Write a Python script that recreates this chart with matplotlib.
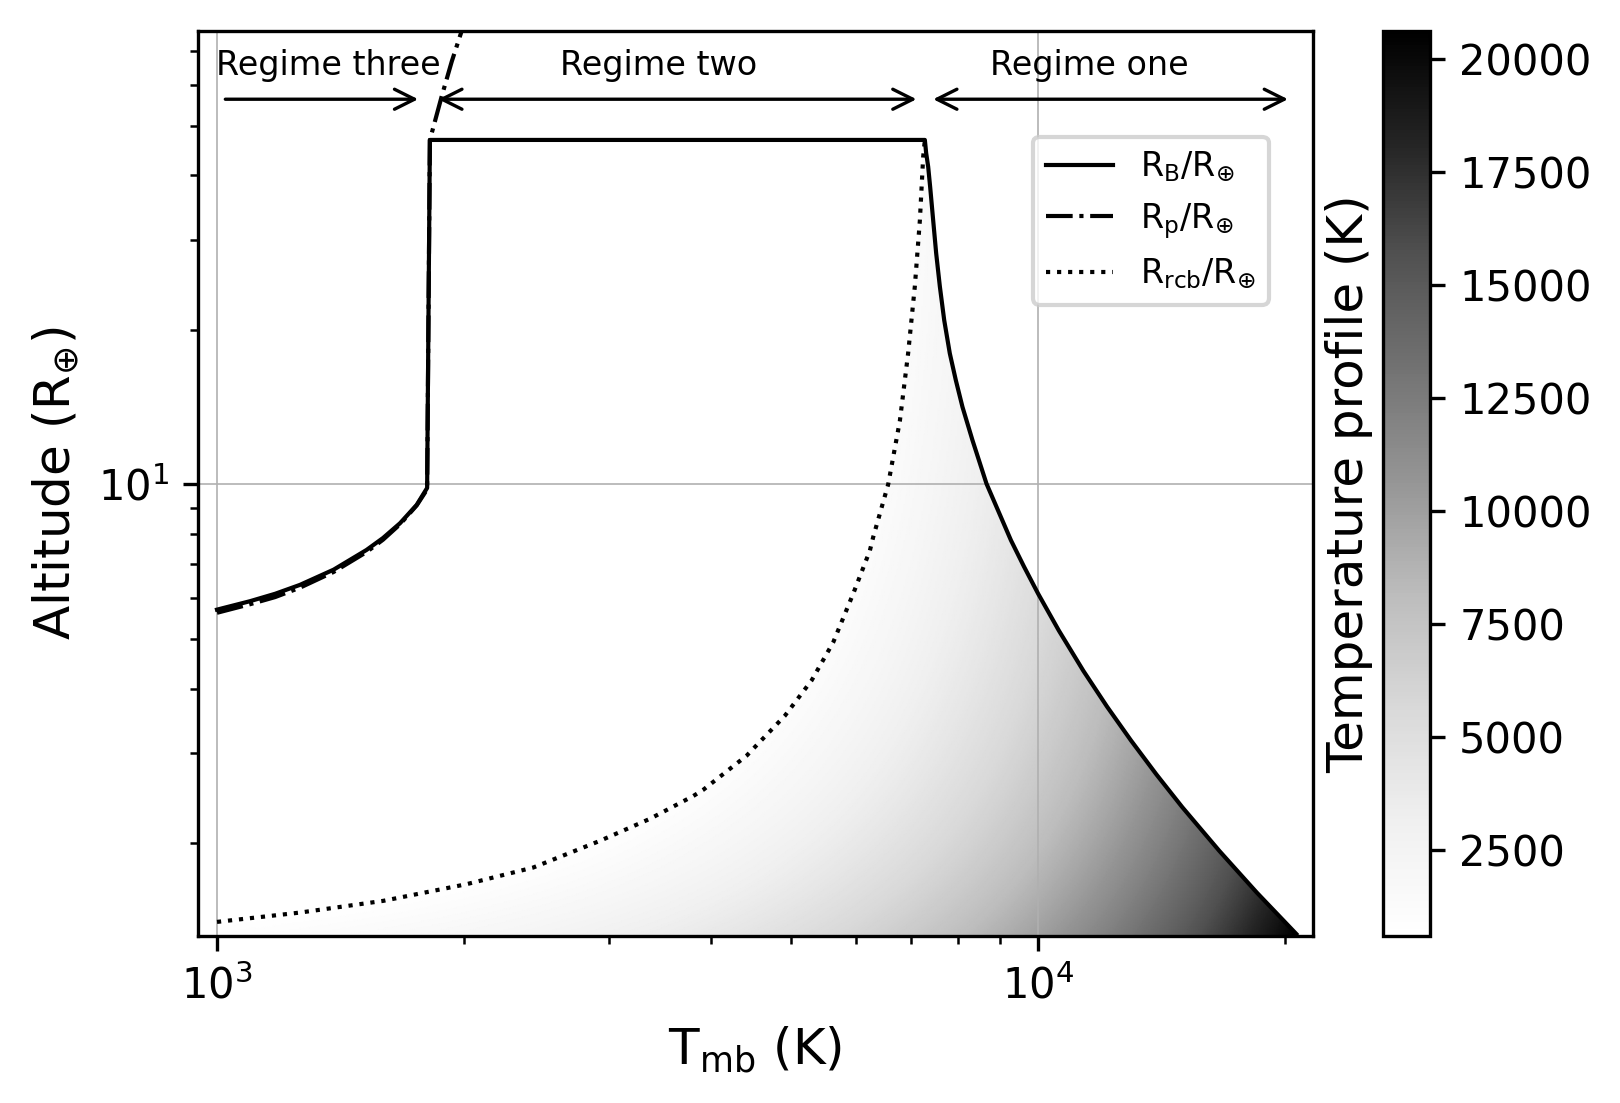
import numpy as np
import matplotlib.pyplot as plt
from matplotlib.patches import Polygon

# Bondi radius R_B (solid)
t_b = [1000, 1097, 1177, 1262, 1387, 1521, 1593, 1671, 1751, 1803, 1817,
       7284, 7311, 7352, 7393, 7456, 7519, 7597, 7690, 7812, 7945, 8095, 8325, 8659,
       9274, 9617, 10010, 10607, 11364, 12141, 12985, 13949, 14994, 16643, 18493, 20650]
r_b = [5.70, 5.92, 6.12, 6.37, 6.82, 7.45, 7.86, 8.40, 9.12, 9.84, 46.9,
       46.9, 44.2, 41.6, 38.0, 32.7, 28.2, 24.3, 20.9, 18.0, 15.96, 14.15, 12.19, 10.03,
       7.78, 6.92, 6.12, 5.19, 4.33, 3.69, 3.17, 2.72, 2.35, 1.93, 1.60, 1.33]

# planet radius R_p (dash-dot)
t_p = [1000, 1097, 1177, 1262, 1387, 1521, 1593, 1671, 1751, 1803, 1817, 1878, 1932, 1986, 2050]
r_p = [5.62, 5.84, 6.03, 6.29, 6.75, 7.38, 7.80, 8.36, 9.10, 9.78, 46.9, 57.0, 66.7, 76.4, 90.0]

# radiative-convective boundary R_rcb (dotted)
t_rcb = [1000, 1262, 1594, 2014, 2428, 2928, 3369, 3804, 3912, 4418, 4918, 5302, 5632,
         5957, 6243, 6301, 6572, 6791, 6950, 7082, 7183, 7250, 7284]
r_rcb = [1.404, 1.464, 1.543, 1.663, 1.792, 2.02, 2.23, 2.47, 2.54, 2.96, 3.54, 4.15, 4.92,
         6.12, 7.43, 7.89, 10.0, 13.3, 18.0, 24.3, 32.7, 43.5, 46.9]

# temperature profile: T(r) = T_mb - c_grad * (1/r_base - 1/r)
r_base = 1.318
c_grad = 8000
t_min, t_max = 605, 20616

regimes = ['Regime three', 'Regime two', 'Regime one']
regime_lo = [1000, 1817, 7284]
regime_hi = [1800, 7284, 20650]
regime_txt = [1365, 3450, 11570]

fig = plt.figure(figsize=(5.4, 3.677), dpi=300)
ax = fig.add_axes([0.1222, 0.1514, 0.6883, 0.8205])
cax = fig.add_axes([0.8537, 0.1514, 0.029, 0.8205])

ax.set_xscale('log')
ax.set_yscale('log')

tg = np.logspace(np.log10(t_b[0]), np.log10(t_b[-1]), 600)
rg = np.logspace(np.log10(r_base), np.log10(50), 600)
field = tg[None, :] - c_grad * (1 / r_base - 1 / rg[:, None])

mesh = ax.pcolormesh(tg, rg, field, cmap='Greys', shading='gouraud',
                     vmin=t_min, vmax=t_max, zorder=1)
n_flat = t_b.index(7284)
bt = t_rcb[:-1] + t_b[n_flat:]
br = r_rcb[:-1] + r_b[n_flat:]
verts = list(zip(bt, br)) + [(t_b[-1], 1.0), (t_b[0], 1.0)]
clip = Polygon(verts, closed=True, transform=ax.transData, facecolor='none', edgecolor='none')
ax.add_patch(clip)
mesh.set_clip_path(clip)

ax.plot(t_b, r_b, 'k-', lw=1, label=r'$\mathrm{R_B/R_{\oplus}}$', zorder=3)
ax.plot(t_p, r_p, 'k-.', lw=1, label=r'$\mathrm{R_p/R_{\oplus}}$', zorder=3)
ax.plot(t_rcb, r_rcb, 'k:', lw=1, label=r'$\mathrm{R_{rcb}/R_{\oplus}}$', zorder=3)

ax.set_xlim(948, 21640)
ax.set_ylim(r_base, 76.5)
ax.grid(True, which='major', color='#b0b0b0', lw=0.4, zorder=0)

ax.annotate('', xy=(regime_hi[0], 56.3), xytext=(regime_lo[0], 56.3),
            arrowprops=dict(arrowstyle='->', color='k', lw=0.8, mutation_scale=12))
for lo, hi in zip(regime_lo[1:], regime_hi[1:]):
    ax.annotate('', xy=(hi, 56.3), xytext=(lo, 56.3),
                arrowprops=dict(arrowstyle='<->', color='k', lw=0.8, mutation_scale=12))
for name, xt in zip(regimes, regime_txt):
    ax.text(xt, 65.4, name, ha='center', va='center', fontsize=8)

ax.legend(loc='upper right', bbox_to_anchor=(0.9605, 0.883), borderaxespad=0, fontsize=8)
ax.set_xlabel(r'$\mathrm{T_{mb}}$ (K)', fontsize=12)
ax.set_ylabel(r'Altitude ($\mathrm{R_{\oplus}}$)', fontsize=12)

cb = fig.colorbar(mesh, cax=cax)
cb.ax.yaxis.set_label_position('left')
cb.set_label('Temperature profile (K)', fontsize=12, labelpad=2.3)

fig.savefig('out.png', dpi=300)
